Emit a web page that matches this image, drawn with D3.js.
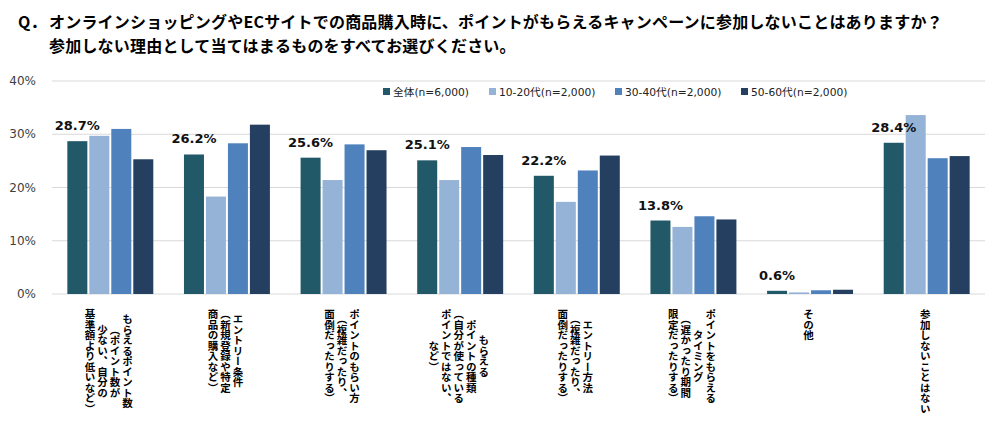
<!DOCTYPE html>
<html lang="ja">
<head>
<meta charset="UTF-8">
<title>ポイントキャンペーン不参加理由</title>
<script src="https://d3js.org/d3.v7.min.js"></script>
<style>
  body { margin: 0; background: #fff; }
  .title { font-family: "Noto Sans CJK JP", sans-serif; font-weight: 700; font-size: 16px; letter-spacing: 0.2px; fill: #000; }
  .tick-label { font-family: "DejaVu Sans", sans-serif; font-size: 12px; fill: #404040; }
  .legend text { font-family: "DejaVu Sans", "Noto Sans CJK JP", sans-serif; font-size: 10.7px; fill: #222; }
  .value-label { font-family: "DejaVu Sans", sans-serif; font-weight: 700; font-size: 13px; fill: #111; }
  .cat-label { font-family: "Noto Sans CJK JP", sans-serif; font-weight: 700; font-size: 10.5px; fill: #000;
               writing-mode: vertical-rl; }
</style>
</head>
<body>
<svg id="chart" width="1000" height="428"></svg>
<script>
// categories (line breaks as in the original labels)
const categories = [
  "もらえるポイント数\n（ポイント数が\n少ない、自分の\n基準額より低いなど）",
  "エントリー条件\n（新規登録や特定\n商品の購入など）",
  "ポイントのもらい方\n（複雑だったり、\n面倒だったりする）",
  "もらえる\nポイントの種類\n（自分が使っている\nポイントではない、\nなど）",
  "エントリー方法\n（複雑だったり、\n面倒だったりする）",
  "ポイントをもらえる\nタイミング\n（遅かったり期間\n限定だったりする）",
  "その他",
  "参加しないことはない"
];

const seriesNames = ["全体(n=6,000)", "10-20代(n=2,000)", "30-40代(n=2,000)", "50-60代(n=2,000)"];
const total   = [28.7, 26.2, 25.6, 25.1, 22.2, 13.8, 0.6, 28.4];
const age1020 = [29.7, 18.3, 21.4, 21.4, 17.3, 12.6, 0.3, 33.6];
const age3040 = [31.0, 28.3, 28.1, 27.6, 23.2, 14.6, 0.7, 25.5];
const age5060 = [25.3, 31.8, 27.0, 26.1, 26.0, 14.0, 0.8, 25.9];
const yTicks = [0, 10, 20, 30, 40];
const colors = ["#215968", "#95b3d7", "#4f81bd", "#243f60"];

const series = [total, age1020, age3040, age5060];

const svg = d3.select("#chart");

// title
const title = svg.append("g");
title.append("text").attr("class", "title").attr("x", 18).attr("y", 28).text("Q．");
title.append("text").attr("class", "title").attr("x", 49).attr("y", 28)
  .text("オンラインショッピングやECサイトでの商品購入時に、ポイントがもらえるキャンペーンに参加しないことはありますか？");
title.append("text").attr("class", "title").attr("x", 49).attr("y", 52)
  .text("参加しない理由として当てはまるものをすべてお選びください。");

// scales
const x0 = d3.scaleBand()
  .domain(d3.range(categories.length))
  .range([52, 985])
  .paddingInner(0.263)
  .paddingOuter(0.1315);

const x1 = d3.scaleBand()
  .domain(d3.range(series.length))
  .range([0, x0.bandwidth()])
  .paddingInner(0.09);

const y = d3.scaleLinear().domain([0, 40]).range([294, 81]);

// grid + y labels
svg.append("g").selectAll("line")
  .data(yTicks)
  .join("line")
  .attr("x1", 52).attr("x2", 985)
  .attr("y1", d => y(d)).attr("y2", d => y(d))
  .attr("stroke", "#d9d9d9").attr("stroke-width", 1);

svg.append("g").selectAll("text")
  .data(yTicks)
  .join("text")
  .attr("class", "tick-label")
  .attr("x", 36).attr("y", d => y(d))
  .attr("text-anchor", "end")
  .attr("dominant-baseline", "central")
  .text(d => d + "%");

// bars
const groups = svg.append("g").selectAll("g")
  .data(categories.map((c, i) => i))
  .join("g")
  .attr("transform", i => `translate(${x0(i)},0)`);

groups.selectAll("rect")
  .data(i => series.map((s, k) => ({ k, v: s[i] })))
  .join("rect")
  .attr("x", d => x1(d.k))
  .attr("width", x1.bandwidth())
  .attr("y", d => y(d.v))
  .attr("height", d => y(0) - y(d.v))
  .attr("fill", d => colors[d.k]);

// value labels (total only)
svg.append("g").selectAll("text")
  .data(total)
  .join("text")
  .attr("class", "value-label")
  .attr("x", (d, i) => x0(i) + x1(0) + x1.bandwidth() / 2)
  .attr("y", d => y(d) - 11)
  .attr("text-anchor", "middle")
  .text(d => d.toFixed(1) + "%");

// legend
const legendX = [383, 489, 615, 741];
const legend = svg.append("g").attr("class", "legend");
seriesNames.forEach((name, k) => {
  legend.append("rect")
    .attr("x", legendX[k]).attr("y", 88)
    .attr("width", 7).attr("height", 7)
    .attr("fill", colors[k]);
  legend.append("text")
    .attr("x", legendX[k] + 10).attr("y", 92)
    .attr("dominant-baseline", "central")
    .text(name);
});

// vertical category labels
const labelTop = 309;
const colGap = 12.5;
categories.forEach((c, i) => {
  const lines = c.split("\n");
  const cx = x0(i) + x0.bandwidth() / 2 - 1.5;
  const g = svg.append("g");
  const texts = lines.map((line, j) =>
    g.append("text")
      .attr("class", "cat-label")
      .attr("x", cx + ((lines.length - 1) / 2 - j) * colGap)
      .attr("text-anchor", "middle")
      .text(line)
  );
  const maxLen = d3.max(texts, t => t.node().getComputedTextLength());
  texts.forEach(t => t.attr("y", labelTop + maxLen / 2));
});
</script>
</body>
</html>
